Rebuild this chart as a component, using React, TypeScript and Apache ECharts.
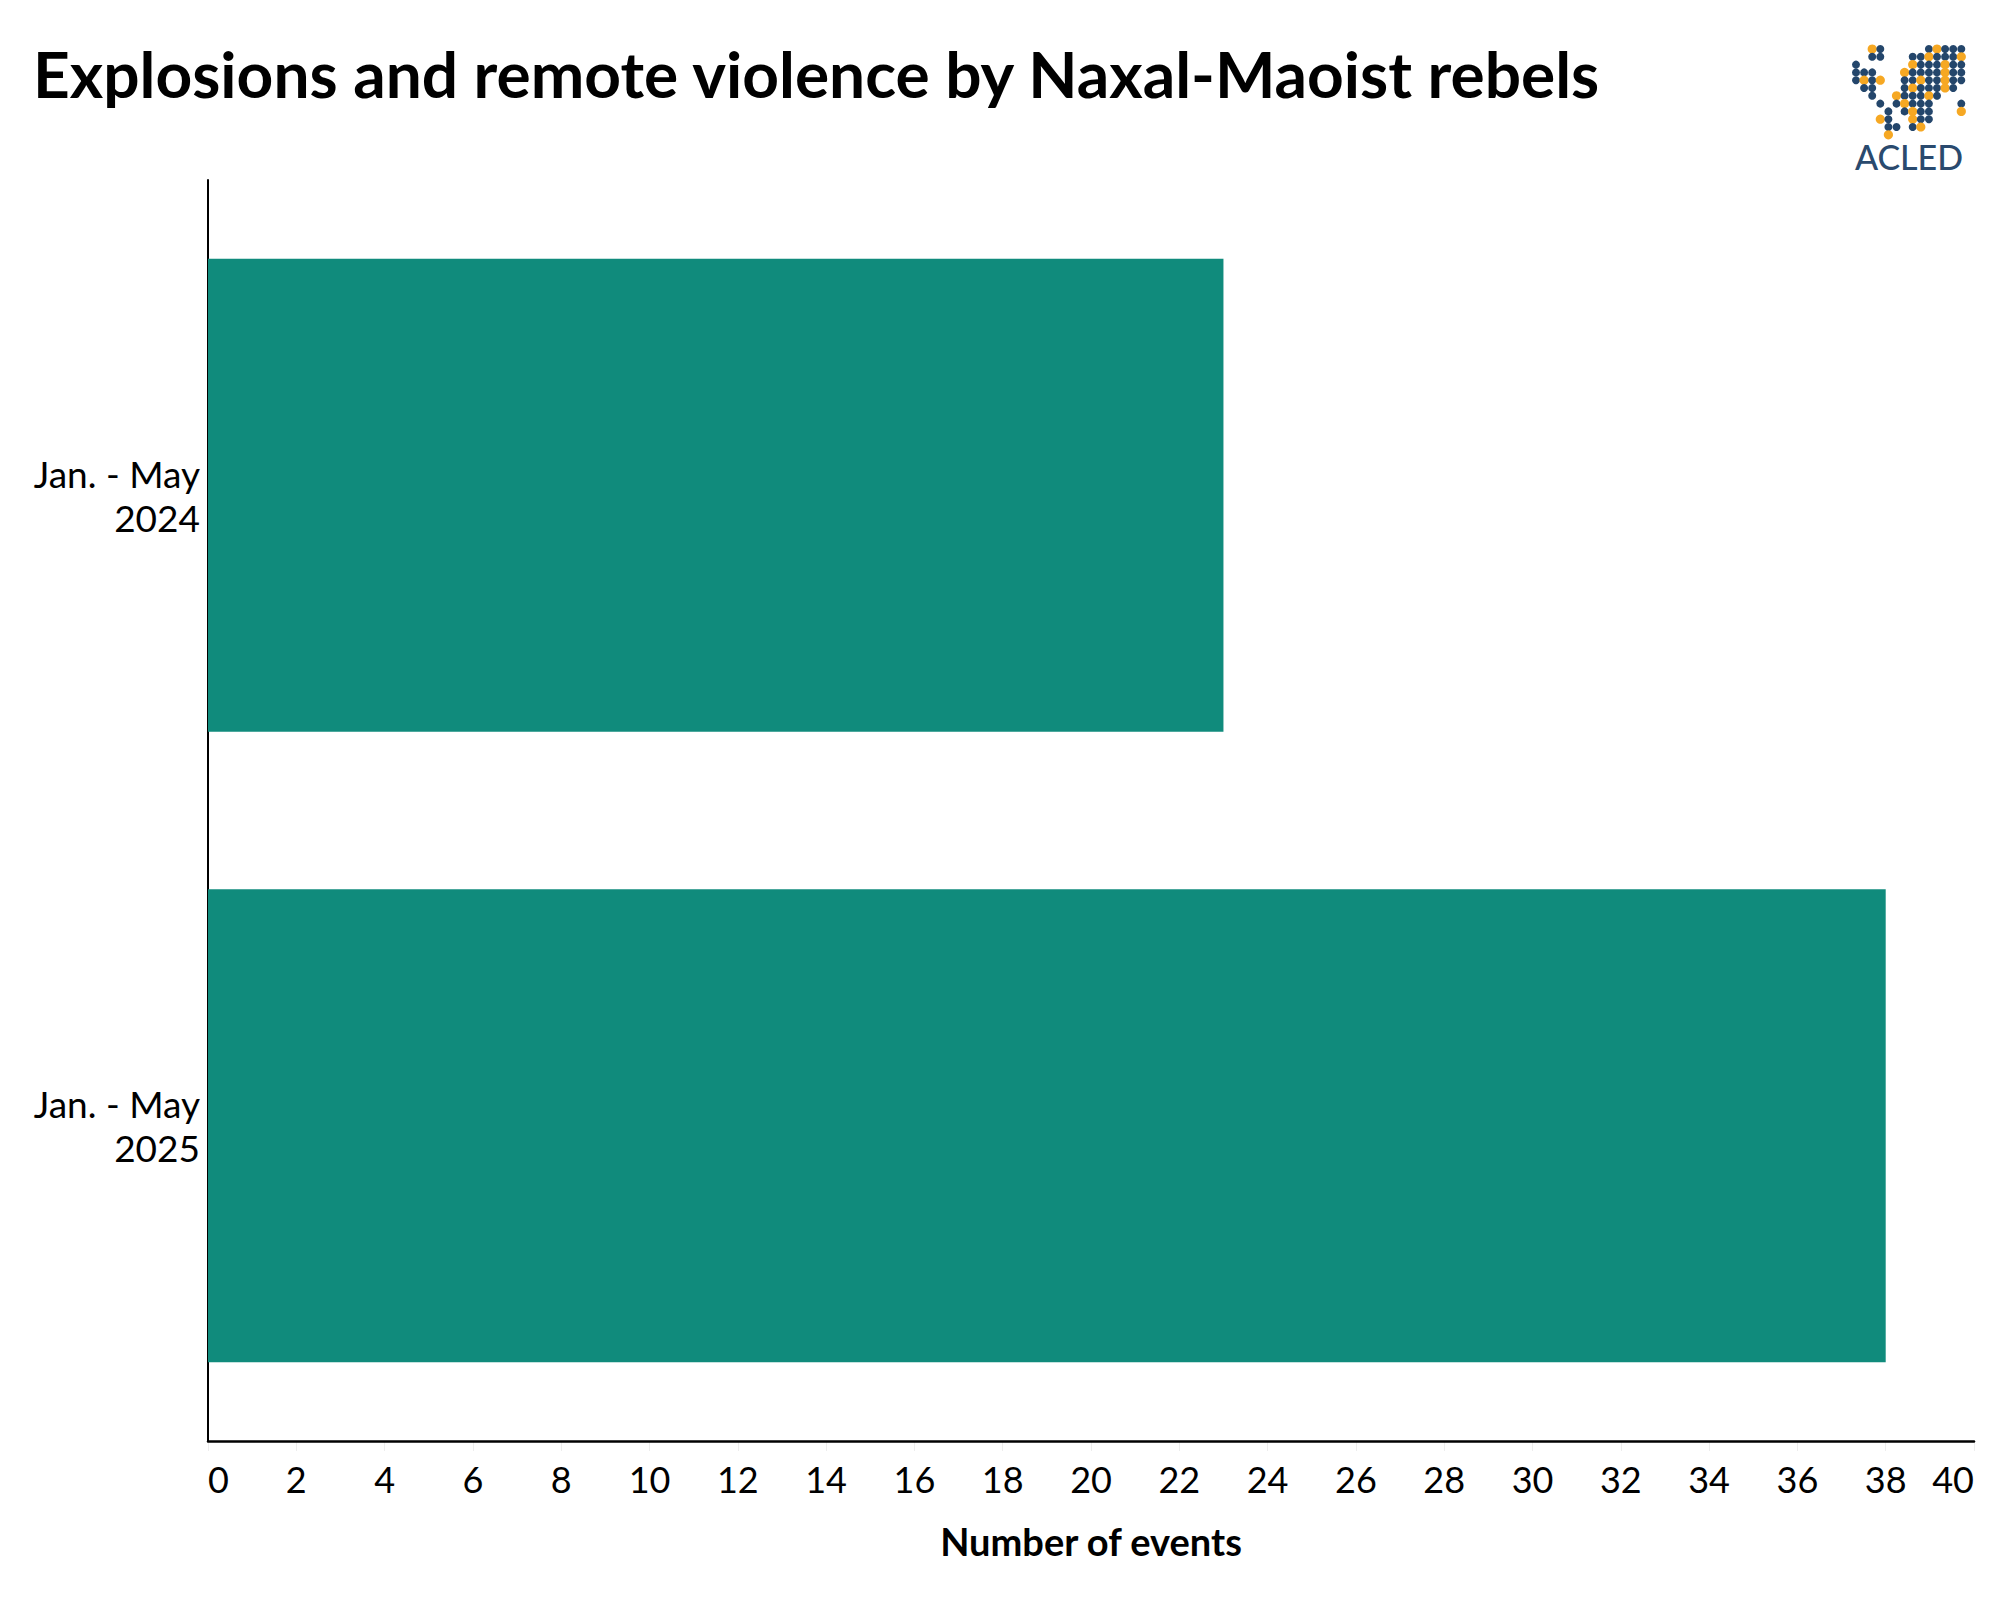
import React, { useEffect, useRef } from "react";
import * as echarts from "echarts";

const TITLE = "Explosions and remote violence by Naxal-Maoist rebels";
const categories = ["Jan. - May\n2024", "Jan. - May\n2025"];
const values = [23, 38];
const xAxisName = "Number of events";
const BAR_COLOR = "#108b7c";

// decorative logo mask (n = navy dot, o = orange dot)
const logoMask = [
  "..on.....nonnn",
  "..nn...nnonnno",
  "n......onnnonn",
  "nnn...onnnnonn",
  "nono..nnonnonn",
  ".nn...nonnnon.",
  "..n..onnnon...",
  "...n.nonnn...n",
  "....n.nonn...o",
  "...on..onn....",
  "....nn.no.....",
  "....o.........",
];

export default function App() {
  const ref = useRef<HTMLDivElement>(null);
  useEffect(() => {
    if (!ref.current) return;
    const chart = echarts.init(ref.current, undefined, { renderer: "svg" });
    const dots: any[] = [];
    logoMask.forEach((row, r) => {
      row.split("").forEach((ch, c) => {
        if (ch === ".") return;
        dots.push({
          type: "circle",
          shape: { cx: 1856 + c * 8.1, cy: 49 + r * 7.8, r: ch === "o" ? 4.6 : 4 },
          style: { fill: ch === "o" ? "#f6a823" : "#24466b" },
          silent: true,
        });
      });
    });
    chart.setOption({
      animation: false,
      backgroundColor: "#ffffff",
      textStyle: { fontFamily: "Lato" },
      graphic: [
        {
          type: "text",
          left: 33,
          top: 41,
          style: {
            text: TITLE,
            fontFamily: "Lato",
            fontWeight: "bold",
            fontSize: 64,
            fill: "#000000",
          },
        },
        ...dots,
        {
          type: "text",
          x: 1909,
          y: 156,
          style: {
            text: "ACLED",
            fontFamily: "Lato",
            fontWeight: 500,
            fontSize: 34,
            fill: "#2a4a6e",
            align: "center",
            verticalAlign: "middle",
          },
        },
      ],
      grid: { left: 208, right: 26, top: 180, bottom: 159, containLabel: false },
      xAxis: {
        type: "value",
        min: 0,
        max: 40,
        interval: 2,
        name: xAxisName,
        nameLocation: "middle",
        nameGap: 81,
        nameTextStyle: { fontFamily: "Lato", fontWeight: "bold", fontSize: 38, color: "#000" },
        axisLine: { show: true, lineStyle: { color: "#000", width: 2.5 } },
        axisTick: {
          show: true,
          length: 10,
          lineStyle: { color: "rgba(0,0,0,0.07)", width: 1, opacity: 1 },
        },
        splitLine: { show: false },
        axisLabel: {
          fontFamily: "Lato",
          fontSize: 36,
          color: "#000",
          margin: 20,
          alignMinLabel: "left",
          alignMaxLabel: "right",
        },
      },
      yAxis: {
        type: "category",
        data: categories,
        inverse: true,
        axisLine: { show: true, lineStyle: { color: "#000", width: 2 } },
        axisTick: { show: false },
        splitLine: { show: false },
        axisLabel: {
          fontFamily: "Lato",
          fontSize: 37,
          lineHeight: 44,
          color: "#000",
          margin: 8,
          align: "right",
        },
      },
      series: [
        {
          type: "bar",
          data: values,
          barCategoryGap: "25%",
          itemStyle: { color: BAR_COLOR },
          silent: true,
        },
      ],
    });
    return () => chart.dispose();
  }, []);
  return (
    <div
      ref={ref}
      style={{ position: "fixed", left: 0, top: 0, width: 2000, height: 1600, background: "#fff" }}
    />
  );
}
